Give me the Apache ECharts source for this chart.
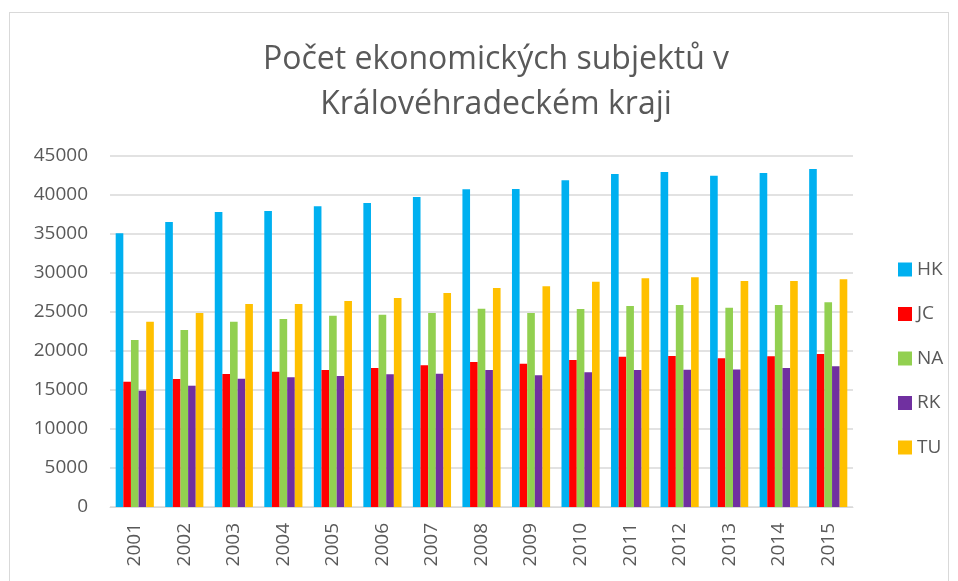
<!DOCTYPE html>
<html>
<head>
<meta charset="utf-8">
<script src="https://cdn.jsdelivr.net/npm/echarts@6/dist/echarts.min.js"></script>
<style>
    html, body { margin: 0; padding: 0; background: #fff; }
    #chart { width: 958px; height: 581px; }
    .frame { position: absolute; left: 9px; top: 12px; width: 940px; height: 575px; border: 1px solid #d9d9d9; box-sizing: border-box; pointer-events: none; }
</style>
</head>
<body>
<div id="chart"></div>
<div class="frame"></div>
<script>
    const years = ['2001','2002','2003','2004','2005','2006','2007','2008','2009','2010','2011','2012','2013','2014','2015']
    const hk = [35100, 36550, 37820, 37950, 38550, 38970, 39740, 40730, 40770, 41880, 42690, 42950, 42480, 42820, 43330]
    const jc = [16060, 16410, 17050, 17350, 17560, 17820, 18160, 18590, 18370, 18850, 19270, 19360, 19060, 19320, 19610]
    const na = [21410, 22690, 23760, 24100, 24530, 24650, 24870, 25420, 24870, 25380, 25770, 25900, 25550, 25900, 26240]
    const rk = [14910, 15550, 16450, 16630, 16790, 17010, 17090, 17560, 16880, 17270, 17560, 17600, 17620, 17820, 18040]
    const tu = [23760, 24870, 26030, 26030, 26410, 26790, 27430, 28080, 28290, 28880, 29320, 29450, 28970, 28970, 29190]

    const names = ['HK', 'JC', 'NA', 'RK', 'TU']
    const colors = ['#00B0F0', '#FF0000', '#92D050', '#7030A0', '#FFC000']
    const values = [hk, jc, na, rk, tu]

    const font = '"Open Sans", "Noto Sans", sans-serif'
    let myChart = echarts.init(document.getElementById('chart'))
    let option = {
        color: colors,
        animation: false,
        title: {
            text: 'Počet ekonomických subjektů v\nKrálovéhradeckém kraji',
            left: 491,
            top: 32,
            textAlign: 'center',
            textStyle: {
                fontFamily: font,
                fontSize: 32,
                fontWeight: 'normal',
                color: '#595959',
                lineHeight: 45
            }
        },
        legend: {
            orient: 'vertical',
            left: 893,
            top: 255,
            itemGap: 25.5,
            itemWidth: 14,
            itemHeight: 14,
            icon: 'rect',
            textStyle: { fontFamily: font, fontSize: 19, color: '#595959' },
            data: names
        },
        grid: {
            left: 110,
            right: 105,
            top: 156,
            bottom: 74
        },
        xAxis: {
            type: 'category',
            data: years,
            axisLine: { lineStyle: { color: '#d9d9d9', width: 1 } },
            axisTick: { show: false },
            axisLabel: {
                rotate: 90,
                fontFamily: font,
                fontSize: 19,
                color: '#595959',
                margin: 16
            }
        },
        yAxis: {
            type: 'value',
            min: 0,
            max: 45000,
            interval: 5000,
            axisLine: { show: false },
            axisTick: { show: false },
            axisLabel: {
                fontFamily: font,
                fontSize: 19,
                color: '#595959',
                margin: 22,
                formatter: v => String(v)
            },
            splitLine: { lineStyle: { color: '#d9d9d9', width: 1.5 } }
        },
        series: names.map((n, i) => ({
            name: n,
            type: 'bar',
            barGap: '0%',
            barCategoryGap: '23%',
            data: values[i]
        }))
    }
    myChart.setOption(option)
</script>
</body>
</html>
